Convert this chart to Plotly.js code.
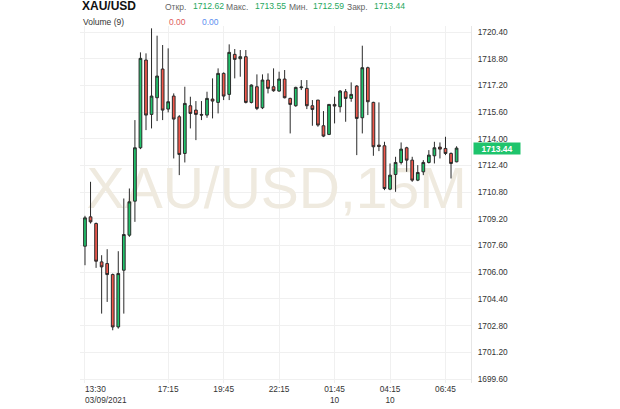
<!DOCTYPE html>
<html>
<head>
<meta charset="utf-8">
<script src="https://cdn.plot.ly/plotly-3.0.1.min.js"></script>
<style>html,body{margin:0;padding:0;background:#fff;}#chart{width:620px;height:409px;}</style>
</head>
<body>
<div id="chart"></div>
<script>
// ---- Data (15-minute candles, XAU/USD) ----
const times = [
  '13:30','13:45','14:00','14:15','14:30','14:45','15:00','15:15','15:30','15:45',
  '16:00','16:15','16:30','16:45','17:00','17:15','17:30','17:45','18:00','18:15',
  '18:30','18:45','19:00','19:15','19:30','19:45','20:00','20:15','20:30','20:45',
  '21:00','21:15','21:30','21:45','22:00','22:15','22:30','22:45','23:00','23:15',
  '23:30','23:45',
  '01:00','01:15','01:30','01:45','02:00','02:15','02:30','02:45','03:00','03:15',
  '03:30','03:45','04:00','04:15','04:30','04:45','05:00','05:15','05:30','05:45',
  '06:00','06:15','06:30','06:45','07:00','07:15'
];
const open = [
  1707.56,1709.32,1708.92,1706.62,1706.52,1705.86,1702.72,1706.12,1708.22,1710.26,
  1713.46,1718.72,1715.46,1716.46,1718.18,1715.78,1716.56,1715.32,1713.12,1715.98,
  1715.72,1715.46,1715.42,1716.38,1716.18,1717.92,1716.66,1719.06,1718.80,1718.92,
  1716.18,1717.12,1715.86,1717.52,1717.12,1716.86,1717.58,1716.42,1715.98,1717.06,
  1717.02,1715.98,
  1716.32,1714.78,1714.26,1716.06,1715.92,1716.82,1716.42,1717.16,1715.26,1718.26,
  1716.18,1713.62,1713.58,1710.98,1711.86,1712.58,1713.46,1712.72,1711.52,1712.02,
  1712.58,1712.98,1713.50,1713.42,1713.12,1712.62
];
const high = [
  1709.38,1711.42,1708.98,1707.02,1707.38,1705.92,1707.26,1710.42,1711.02,1715.12,
  1719.18,1719.12,1720.62,1720.18,1719.62,1719.42,1716.72,1715.42,1717.12,1716.52,
  1716.26,1716.26,1716.82,1717.62,1718.22,1717.98,1719.66,1719.38,1719.32,1719.32,
  1717.26,1717.86,1717.86,1717.92,1718.22,1718.02,1718.12,1716.46,1717.12,1717.52,
  1717.52,1716.32,
  1716.32,1715.66,1716.06,1716.52,1716.92,1716.98,1717.38,1717.22,1719.58,1718.32,
  1716.22,1716.18,1713.82,1712.52,1712.92,1713.78,1713.52,1712.92,1712.42,1712.72,
  1713.32,1713.82,1713.78,1714.12,1713.18,1713.55
];
const low = [
  1706.42,1708.92,1706.26,1703.52,1704.22,1702.52,1702.62,1703.52,1708.12,1709.02,
  1713.38,1714.52,1714.62,1715.06,1715.12,1715.58,1712.82,1711.82,1712.58,1714.62,
  1713.92,1715.12,1715.26,1715.22,1715.52,1716.32,1716.32,1717.62,1717.72,1716.12,
  1716.12,1715.72,1715.78,1716.72,1716.82,1716.82,1716.42,1714.32,1715.92,1716.92,
  1715.78,1714.78,
  1714.72,1714.10,1714.22,1714.92,1715.58,1715.02,1716.22,1713.02,1714.32,1715.42,
  1712.98,1713.26,1710.92,1710.92,1710.82,1712.46,1712.02,1711.42,1711.46,1711.82,
  1712.52,1712.52,1712.82,1713.02,1711.62,1712.59
];
const close = [
  1709.26,1709.02,1706.66,1706.32,1705.86,1702.72,1705.92,1708.26,1710.22,1713.46,
  1718.82,1715.42,1716.56,1717.76,1715.72,1716.22,1715.18,1713.06,1716.12,1715.52,
  1715.46,1715.42,1716.42,1716.26,1717.92,1716.56,1719.18,1718.76,1718.92,1716.18,
  1717.22,1715.82,1717.52,1717.02,1716.88,1717.58,1716.46,1716.06,1717.08,1717.10,
  1715.98,1715.76,
  1714.82,1714.16,1716.06,1715.96,1716.86,1716.42,1716.66,1715.22,1718.26,1716.22,
  1713.52,1713.54,1711.02,1711.82,1712.58,1713.38,1712.72,1711.52,1711.98,1712.58,
  1713.02,1713.46,1713.38,1713.12,1712.52,1713.44
];
const tickTimes = ['13:30','17:15','19:45','22:15','01:45','04:15','06:45'];
const tickText  = ['13:30<br>03/09/2021','17:15','19:45','22:15','01:45<br>10','04:15<br>10','06:45'];
const yTick0 = 1699.6, yDtick = 1.6;
const symbol = 'XAU/USD', interval = '15M';
const volumeLabel = 'Volume (9)', volumeValues = ['0.00','0.00'];

// ---- Styles ----
const FONT = 'Liberation Sans, Arial, sans-serif';
const GREEN = '#21c46c', RED = '#f0584c', WICK = '#2a2a2a', GRID = '#f0f0f0';
const HDR_GREEN = '#1fa85e';
const xRange = [-0.9, 69.6];
const yRange = [1699.36, 1720.76];

const last = close.length - 1;
const fmt = v => v.toFixed(2);

const data = [
  { // watermark, on the base (lowest) subplot
    type: 'scatter', mode: 'text', xaxis: 'x', yaxis: 'y',
    x: [0.503], y: [0.53], text: [symbol + ',' + interval],
    textposition: 'middle center',
    textfont: {family: FONT, size: 57, color: '#efeadf'},
    hoverinfo: 'skip', showlegend: false, cliponaxis: false
  },
  {
    type: 'candlestick', xaxis: 'x2', yaxis: 'y2',
    x: times, open: open, high: high, low: low, close: close,
    increasing: {line: {color: WICK, width: 1}, fillcolor: GREEN},
    decreasing: {line: {color: WICK, width: 1}, fillcolor: RED},
    whiskerwidth: 0, hoverinfo: 'skip', showlegend: false
  },
  { // empty trace so the axis carrying the first (left-aligned) time label is drawn
    type: 'scatter', mode: 'markers', xaxis: 'x3', yaxis: 'y2', x: [], y: [],
    hoverinfo: 'skip', showlegend: false
  }
];

const px = p => (p - 80) / 391;
const py = p => (383 - p) / 357;
function hdr(text, x, y, size, color, bold) {
  return {xref: 'paper', yref: 'paper', x: px(x), y: py(y), xanchor: 'left', yanchor: 'middle',
    text: bold ? '<b>' + text + '</b>' : text, showarrow: false, borderpad: 0,
    font: {family: FONT, size: size, color: color}};
}

const annotations = [
  hdr(symbol, 81, 6, 12, '#111', true),
  hdr('Откр.', 164, 7, 8.5, '#666'),
  hdr(fmt(open[last]), 192, 6, 8.6, HDR_GREEN),
  hdr('Макс.', 225, 7, 8.5, '#666'),
  hdr(fmt(high[last]), 254, 6, 8.6, HDR_GREEN),
  hdr('Мин.', 288, 7, 8.5, '#666'),
  hdr(fmt(low[last]), 312, 6, 8.6, HDR_GREEN),
  hdr('Закр.', 346, 7, 8.5, '#666'),
  hdr(fmt(close[last]), 373, 6, 8.6, HDR_GREEN),
  hdr(volumeLabel, 82, 21.5, 8.5, '#333'),
  hdr(volumeValues[0], 168, 21.5, 8.5, '#e05c5c'),
  hdr(volumeValues[1], 201, 21.5, 8.5, '#5b8ff0'),
  { // last price tag
    xref: 'paper', yref: 'y2', x: 1, y: close[last], xanchor: 'left', yanchor: 'middle', xshift: 2,
    text: '<b>' + fmt(close[last]) + '</b>', showarrow: false,
    bgcolor: '#1ec46c', width: 46, height: 11, borderpad: 0,
    font: {family: FONT, size: 8.5, color: '#fff'}
  }
];

const layout = {
  width: 620, height: 409,
  margin: {l: 80, r: 149, t: 26, b: 26, pad: 0},
  paper_bgcolor: '#fff', plot_bgcolor: '#fff',
  showlegend: false,
  font: {family: FONT, size: 8.3, color: '#333'},
  xaxis: {range: [0, 1], visible: false, fixedrange: true},
  yaxis: {range: [0, 1], visible: false, fixedrange: true},
  xaxis2: {
    overlaying: 'x', anchor: 'y2', type: 'category', categoryorder: 'array', categoryarray: times,
    range: xRange, tickmode: 'array', tickvals: tickTimes.slice(1), ticktext: tickText.slice(1),
    showgrid: true, gridcolor: GRID, gridwidth: 1, zeroline: false, showline: false, ticks: '',
    rangeslider: {visible: false}, tickfont: {family: FONT, size: 8.3, color: '#333'}
  },
  xaxis3: {
    overlaying: 'x', anchor: 'y2', type: 'linear', range: xRange,
    tickmode: 'array', tickvals: [times.indexOf(tickTimes[0])], ticktext: [tickText[0]],
    ticklabelposition: 'outside right',
    showgrid: true, gridcolor: GRID, zeroline: false, showline: false, ticks: '',
    tickfont: {family: FONT, size: 8.3, color: '#333'}
  },
  yaxis2: {
    overlaying: 'y', side: 'right', anchor: 'x2', range: yRange,
    tickmode: 'linear', tick0: yTick0, dtick: yDtick, tickformat: '.2f',
    showgrid: true, gridcolor: GRID, zeroline: false, showline: true, linecolor: '#e6e6e6',
    ticks: '', ticklabelstandoff: 4,
    tickfont: {family: FONT, size: 8.3, color: '#333'}
  },
  annotations: annotations
};

Plotly.newPlot('chart', data, layout, {staticPlot: true, displayModeBar: false});
</script>
</body>
</html>
